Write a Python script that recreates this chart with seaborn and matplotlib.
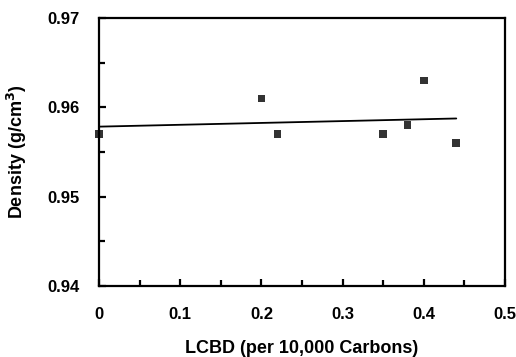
import numpy as np
import pandas as pd
import matplotlib
matplotlib.use("Agg")
import matplotlib.pyplot as plt
from matplotlib.ticker import MultipleLocator, FixedLocator
import seaborn as sns

lcbd = [0.0, 0.20, 0.22, 0.35, 0.38, 0.40, 0.44]
density = [0.957, 0.961, 0.957, 0.957, 0.958, 0.963, 0.956]
xticks = [0, 0.1, 0.2, 0.3, 0.4, 0.5]
xticklabels = ["0", "0.1", "0.2", "0.3", "0.4", "0.5"]
yticks = [0.94, 0.95, 0.96, 0.97]
yticklabels = ["0.94", "0.95", "0.96", "0.97"]

df = pd.DataFrame({"LCBD": lcbd, "Density": density})

sns.set_style("white")
plt.rcParams["font.family"] = ["Liberation Sans", "DejaVu Sans"]
plt.rcParams["font.weight"] = "bold"
plt.rcParams["text.color"] = "black"
plt.rcParams["axes.labelcolor"] = "black"
plt.rcParams["xtick.color"] = "black"
plt.rcParams["ytick.color"] = "black"

fig = plt.figure(figsize=(5.16, 3.57), dpi=100)
ax = fig.add_axes([99/516, 1 - 286/357, (505-99)/516, (286-18)/357])

sns.regplot(data=df, x="LCBD", y="Density", ax=ax, ci=None, marker="s",
            scatter_kws=dict(s=30, color="black", edgecolors="none", zorder=3, clip_on=False),
            line_kws=dict(color="black", lw=1.3))

ax.set_xlim(0, 0.5)
ax.set_ylim(0.94, 0.97)
ax.xaxis.set_major_locator(FixedLocator(xticks))
ax.set_xticklabels(xticklabels)
ax.xaxis.set_minor_locator(MultipleLocator(0.05))
ax.yaxis.set_major_locator(FixedLocator(yticks))
ax.set_yticklabels(yticklabels)
ax.yaxis.set_minor_locator(MultipleLocator(0.005))

for s in ax.spines.values():
    s.set_linewidth(1.6)
    s.set_color("black")
    s.set_visible(True)

ax.tick_params(axis="both", which="both", direction="in", color="black", width=1.6,
               bottom=True, left=True, top=False, right=False, labelcolor="black")
ax.tick_params(axis="both", which="major", length=5, labelsize=12)
ax.tick_params(axis="x", which="major", pad=15)
ax.tick_params(axis="y", which="major", pad=14)
ax.tick_params(axis="both", which="minor", length=4)

ax.set_xlabel("LCBD (per 10,000 Carbons)", fontsize=13, fontweight="bold", labelpad=13, color="black")
ax.set_ylabel("Density (g/cm$^3$)", fontsize=13, fontweight="bold", labelpad=13, color="black")
for lab in ax.get_xticklabels() + ax.get_yticklabels():
    lab.set_fontweight("bold")

fig.savefig("out.png", dpi=100)
